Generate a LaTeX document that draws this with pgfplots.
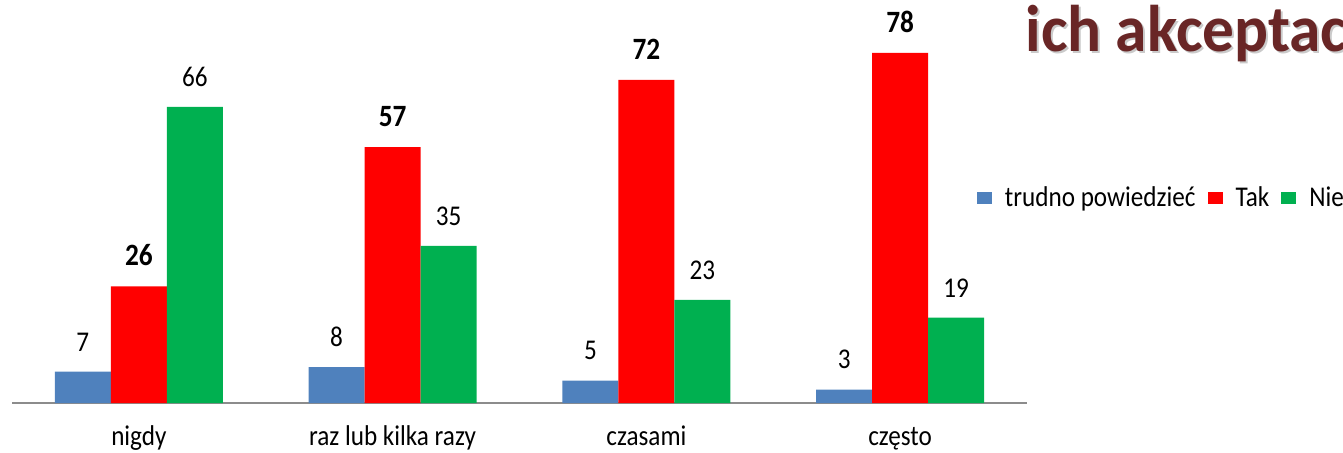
\documentclass[border=0pt]{standalone}
\usepackage{pgfplots}
\pgfplotsset{compat=1.18}
\usepackage{fontspec}
\setmainfont{Carlito}[FakeStretch=0.88]
\newfontfamily\titlefont{Carlito}[FakeStretch=0.96]
\definecolor{cblue}{RGB}{79,129,189}
\definecolor{cred}{RGB}{255,0,0}
\definecolor{cgreen}{RGB}{0,176,80}
\definecolor{ctitle}{RGB}{105,38,38}
\newcommand\lf{\fontsize{14.3}{17}\selectfont}
\newcommand\blf{\fontsize{15.5}{18}\selectfont\bfseries}
\pgfplotsset{
  mylegend/.style={legend image code/.code={\fill[##1,draw=none] (0pt,-3.2pt) rectangle (7.5pt,3.2pt);}},
}
\begin{document}
\begin{tikzpicture}
\useasboundingbox (0,0) rectangle (671.5pt,226pt);
\clip (0,0) rectangle (671.5pt,226pt);
\node[text=black!35, opacity=0.6, anchor=base west, inner sep=0pt, font=\titlefont\fontsize{33}{36}\selectfont\bfseries] at (513.5pt,199.5pt) {ich akceptacji};
\node[text=ctitle, anchor=base west, inner sep=0pt, font=\titlefont\fontsize{33}{36}\selectfont\bfseries] at (512.5pt,200.5pt) {ich akceptacji};
\begin{axis}[
  at={(6pt,24.5pt)}, anchor=south west,
  scale only axis, width=507.5pt, height=179.5pt,
  xmin=-0.5, xmax=3.5, ymin=0, ymax=80,
  clip=false,
  ybar=0pt, bar width=28pt,
  /pgf/number format/assume math mode=true,
  axis y line=none,
  axis x line*=bottom,
  x axis line style={draw=black!45, line width=1pt},
  xtick={0,1,2,3},
  xticklabels={nigdy, raz lub kilka razy, czasami, często},
  major tick length=0pt,
  xticklabel style={font=\lf, anchor=base, yshift=-21pt},
  nodes near coords,
  every node near coord/.append style={font=\lf, inner sep=0pt, anchor=south, yshift=10pt},
  legend columns=3,
  legend style={draw=none, fill=none, inner sep=0pt, outer sep=0pt,
    at={(axis description cs:0.9507,0.571)}, anchor=west,
    nodes={inner sep=0pt, font=\lf},
    /tikz/every odd column/.append style={column sep=6.5pt},
    /tikz/every even column/.append style={column sep=6pt}},
]
\addplot[fill=cblue, draw=none, mylegend]
  coordinates {(0,7) (1,8) (2,5) (3,3)};
\addplot[fill=cred, draw=none, mylegend,
  every node near coord/.append style={font=\blf}]
  coordinates {(0,26) (1,57) (2,72) (3,78)};
\addplot[fill=cgreen, draw=none, mylegend]
  coordinates {(0,66) (1,35) (2,23) (3,19)};
\legend{trudno powiedzieć, Tak, Nie}
\end{axis}
\end{tikzpicture}
\end{document}
